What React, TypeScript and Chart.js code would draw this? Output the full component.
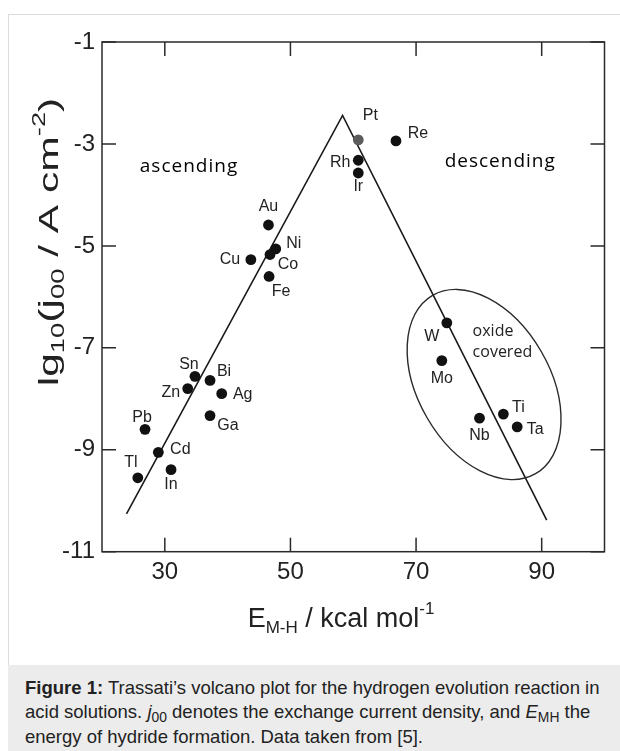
import React, { useEffect, useRef } from 'react';
import { Chart, registerables } from 'chart.js';

Chart.register(...registerables);

// ---- data ----
const metals = ['Tl', 'Pb', 'Cd', 'In', 'Zn', 'Sn', 'Bi', 'Ag', 'Ga', 'Cu', 'Au', 'Ni', 'Co', 'Fe', 'Pt', 'Re', 'Rh', 'Ir', 'W', 'Mo', 'Nb', 'Ti', 'Ta'];
const energies = [25.7, 26.85, 28.97, 30.99, 33.65, 34.8, 37.2, 39.06, 37.2, 43.7, 46.5, 47.66, 46.75, 46.6, 60.8, 66.8, 60.8, 60.8, 74.9, 74.1, 80.1, 83.9, 86.1];
const logCurrents = [-9.55, -8.6, -9.05, -9.39, -7.8, -7.56, -7.64, -7.9, -8.33, -5.27, -4.59, -5.06, -5.17, -5.6, -2.92, -2.94, -3.32, -3.57, -6.51, -7.25, -8.38, -8.3, -8.55];

const volcanoX = [23.9, 58.3, 90.8];
const volcanoY = [-10.26, -2.44, -10.38];

const xTicks = [30, 50, 70, 90];
const yTicks = [-11, -9, -7, -5, -3, -1];

const regionLabels = ['ascending', 'descending'];
const regionLabelX = [33.85, 83.4];
const regionLabelY = [-3.45, -3.35];

const oxideLines = ['oxide', 'covered'];
const oxideX = 79.0;
const oxideY = [-6.67, -7.09];

const ellipseCenterX = 80.83;
const ellipseCenterY = -7.72;

// ---- layout / style (not data) ----
const FONT = '"Liberation Sans", Arial, Helvetica, sans-serif';
const ANNOT_FONT = '"Open Sans", "DejaVu Sans", sans-serif';
const TICK = 14;
const labelOffsets: Record<string, [number, number]> = {
  Tl: [-7, -15], Pb: [-3, -12], Cd: [22, -3], In: [0, 15], Zn: [-17, 4], Sn: [-6, -12],
  Bi: [14, -9], Ag: [21, 1], Ga: [18, 10], Cu: [-21, 0], Au: [0, -18], Ni: [18, -5],
  Co: [18, 10], Fe: [12, 15], Pt: [12, -24], Re: [22, -7], Rh: [-18, 2], Ir: [0, 14],
  W: [-15, 14], Mo: [0, 18], Nb: [0, 17], Ti: [15, -6], Ta: [18, 3],
};

type Part = { t: string; size: number; dy: number; italic?: boolean };

function drawRich(ctx: CanvasRenderingContext2D, parts: Part[], cx: number, baseline: number) {
  let total = 0;
  const widths = parts.map((p) => {
    ctx.font = `${p.italic ? 'italic ' : ''}${p.size}px ${FONT}`;
    const w = ctx.measureText(p.t).width;
    total += w;
    return w;
  });
  let x = cx - total / 2;
  ctx.textAlign = 'left';
  ctx.textBaseline = 'alphabetic';
  parts.forEach((p, i) => {
    ctx.font = `${p.italic ? 'italic ' : ''}${p.size}px ${FONT}`;
    ctx.fillText(p.t, x, baseline + p.dy);
    x += widths[i];
  });
}

const decorPlugin = {
  id: 'volcanoDecor',
  afterDraw(chart: any) {
    const { ctx, chartArea: a, scales } = chart;
    const x = scales.x;
    const y = scales.y;
    ctx.save();
    ctx.strokeStyle = '#2a2a2a';
    ctx.lineWidth = 1.5;
    ctx.strokeRect(a.left, a.top, a.right - a.left, a.bottom - a.top);
    ctx.beginPath();
    xTicks.forEach((v) => {
      const px = x.getPixelForValue(v);
      ctx.moveTo(px, a.bottom);
      ctx.lineTo(px, a.bottom - TICK);
      ctx.moveTo(px, a.top);
      ctx.lineTo(px, a.top + TICK);
    });
    yTicks.forEach((v) => {
      const py = y.getPixelForValue(v);
      ctx.moveTo(a.left, py);
      ctx.lineTo(a.left + TICK, py);
      ctx.moveTo(a.right, py);
      ctx.lineTo(a.right - TICK, py);
    });
    ctx.stroke();

    // ellipse around the oxide-covered metals
    ctx.beginPath();
    ctx.lineWidth = 1.4;
    ctx.ellipse(x.getPixelForValue(ellipseCenterX), y.getPixelForValue(ellipseCenterY), 103, 66, Math.PI / 3, 0, Math.PI * 2);
    ctx.stroke();

    // element labels
    ctx.fillStyle = '#222';
    ctx.font = `16px ${FONT}`;
    ctx.textAlign = 'center';
    ctx.textBaseline = 'middle';
    metals.forEach((m, i) => {
      const [dx, dy] = labelOffsets[m];
      ctx.fillText(m, x.getPixelForValue(energies[i]) + dx, y.getPixelForValue(logCurrents[i]) + dy);
    });

    // region annotations
    ctx.fillStyle = '#000';
    ctx.font = `19px ${ANNOT_FONT}`;
    (ctx as any).letterSpacing = '1px';
    regionLabels.forEach((t, i) => {
      ctx.fillText(t, x.getPixelForValue(regionLabelX[i]), y.getPixelForValue(regionLabelY[i]));
    });
    (ctx as any).letterSpacing = '0px';
    ctx.font = `16px ${ANNOT_FONT}`;
    ctx.fillStyle = '#222';
    ctx.textAlign = 'left';
    oxideLines.forEach((t, i) => {
      ctx.fillText(t, x.getPixelForValue(oxideX), y.getPixelForValue(oxideY[i]));
    });

    // axis titles
    ctx.fillStyle = '#222';
    drawRich(ctx, [
      { t: 'E', size: 27, dy: 0 },
      { t: 'M-H', size: 17, dy: 6 },
      { t: ' / kcal mol', size: 27, dy: 0 },
      { t: '-1', size: 17, dy: -13 },
    ], 341, 627);

    ctx.save();
    ctx.translate(47, 242);
    ctx.rotate(-Math.PI / 2);
    ctx.scale(1.52, 1);
    drawRich(ctx, [
      { t: 'lg', size: 28, dy: 0 },
      { t: '10', size: 18, dy: 6 },
      { t: '(j', size: 28, dy: 0 },
      { t: '00', size: 18, dy: 6 },
      { t: ' / A cm', size: 28, dy: 0 },
      { t: '-2', size: 18, dy: -13 },
      { t: ')', size: 28, dy: 0 },
    ], 0, 11);
    ctx.restore();

    ctx.restore();
  },
};

export default function App() {
  const ref = useRef<HTMLCanvasElement>(null);

  useEffect(() => {
    const canvas = ref.current;
    if (!canvas) return;
    const chart = new Chart(canvas, {
      type: 'scatter',
      data: {
        datasets: [
          {
            type: 'line',
            data: volcanoX.map((v, i) => ({ x: v, y: volcanoY[i] })),
            borderColor: '#1a1a1a',
            borderWidth: 1.6,
            pointRadius: 0,
            fill: false,
            tension: 0,
            order: 2,
          } as any,
          {
            data: metals.map((_, i) => ({ x: energies[i], y: logCurrents[i] })),
            pointRadius: 5.4,
            pointBackgroundColor: metals.map((m) => (m === 'Pt' ? '#5c5c5c' : '#111')),
            pointBorderWidth: 0,
            order: 1,
          },
        ],
      },
      options: {
        responsive: false,
        animation: false,
        devicePixelRatio: 1,
        events: [],
        layout: { padding: { left: 0, top: 42, right: 15.5, bottom: 0 }, autoPadding: false } as any,
        plugins: { legend: { display: false }, tooltip: { enabled: false } },
        scales: {
          x: {
            type: 'linear',
            min: 20,
            max: 100,
            afterBuildTicks: (s: any) => { s.ticks = xTicks.map((v) => ({ value: v })); },
            afterFit: (s: any) => { s.height = 113.3; },
            grid: { display: false, drawTicks: false },
            border: { display: false },
            ticks: { padding: 6, color: '#222', font: { family: FONT, size: 24 }, maxRotation: 0, autoSkip: false },
          },
          y: {
            type: 'linear',
            min: -11,
            max: -1,
            afterBuildTicks: (s: any) => { s.ticks = yTicks.map((v) => ({ value: v })); },
            afterFit: (s: any) => { s.width = 102; },
            grid: { display: false, drawTicks: false },
            border: { display: false },
            ticks: { padding: 7, color: '#222', font: { family: FONT, size: 24 }, autoSkip: false },
          },
        },
      },
      plugins: [decorPlugin],
    });
    return () => chart.destroy();
  }, []);

  const sub: React.CSSProperties = { fontSize: '0.75em', verticalAlign: '-0.28em', lineHeight: 0, fontStyle: 'normal' };

  return (
    <div style={{ position: 'fixed', left: 0, top: 0, width: 620, height: 751, background: '#fff', overflow: 'hidden' }}>
      <div style={{ position: 'absolute', left: 8, top: 14, width: 612, height: 651, borderLeft: '1px solid #dcdcdc', borderTop: '1px solid #dcdcdc', boxSizing: 'border-box' }} />
      <canvas ref={ref} width={620} height={665} style={{ position: 'absolute', left: 0, top: 0, width: 620, height: 665 }} />
      <div
        style={{
          position: 'absolute', left: 8, top: 665, width: 612, height: 86, background: '#ececec',
          fontFamily: FONT, fontSize: 18.5, lineHeight: '24.3px', color: '#222',
          padding: '11px 0 0 17px', boxSizing: 'border-box', whiteSpace: 'nowrap',
        }}
      >
        <div><b>Figure 1:</b> Trassati’s volcano plot for the hydrogen evolution reaction in</div>
        <div>acid solutions. <i>j</i><span style={sub}>00</span> denotes the exchange current density, and <i>E</i><span style={sub}>MH</span> the</div>
        <div>energy of hydride formation. Data taken from [5].</div>
      </div>
    </div>
  );
}
